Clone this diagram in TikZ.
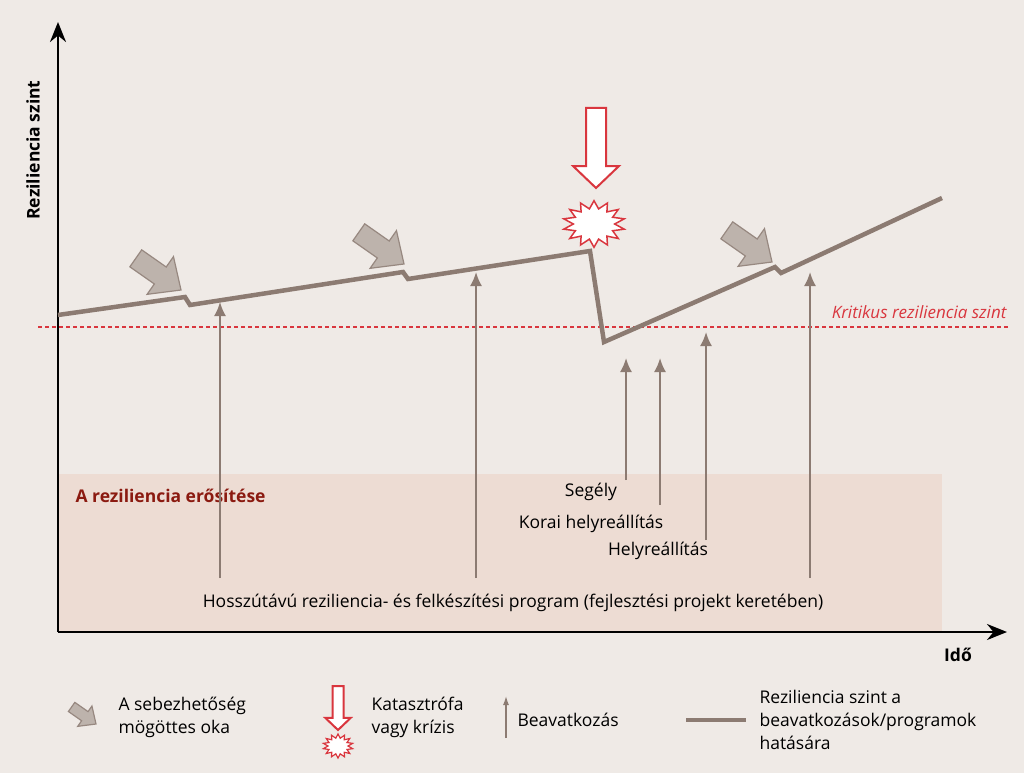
\documentclass[tikz,border=0pt]{standalone}
\usepackage{fontspec}
\setmainfont{Open Sans}
\usetikzlibrary{shapes.geometric}
\usetikzlibrary{positioning}
\definecolor{bg}{HTML}{EFEAE6}
\definecolor{boxfill}{HTML}{EDDCD3}
\definecolor{lvl}{HTML}{8C7B72}
\definecolor{fat}{HTML}{BDB3AC}
\definecolor{crit}{HTML}{D9363E}
\definecolor{dred}{HTML}{8B1A10}
\tikzset{
  txt/.style={font=\fontsize{17.5}{23}\selectfont, align=left},
  interv/.style={draw=lvl, line width=2pt, -{Latex[length=14pt,width=12pt]}},
  burst/.style={star, star points=14, star point ratio=1.5, draw=crit, fill=white, line width=1.5pt, minimum width=#1, inner sep=0pt},
  fatarrow/.pic={\draw[fill=fat, draw=lvl!90, line width=1.2pt] (-48,-9)--(-22,-9)--(-22,-20)--(0,0)--(-22,20)--(-22,9)--(-48,9)--cycle;},
  disaster/.pic={\draw[fill=white, draw=crit, line width=2pt] (-10,0)--(10,0)--(10,58)--(23,58)--(0,80)--(-23,58)--(-10,58)--cycle;}
}
\usetikzlibrary{arrows.meta}
\begin{document}
\begin{tikzpicture}[x=1pt, y=-1pt]
  \fill[bg] (0,0) rectangle (1024,773);
  \useasboundingbox (0,0) rectangle (1024,773);
  % strengthening area
  \fill[boxfill] (58,474) rectangle (942,632);
  \node[txt, anchor=west, text=dred, font=\fontsize{17.5}{21}\selectfont\bfseries] (strong) at (72,496) {A reziliencia erősítése};
  % axes
  \coordinate (o) at (58,632);
  \coordinate (ytop) at (58,22);
  \coordinate (xend) at (1007,632);
  \draw[line width=2.5pt, -{Stealth[length=20pt,width=16pt]}] (o) -- (ytop);
  \draw[line width=2.5pt, -{Stealth[length=20pt,width=16pt]}] (o) -- (xend);
  \node[rotate=90, font=\fontsize{17.5}{21}\selectfont\bfseries] (ylab) at (33,150) {Reziliencia szint};
  \node[font=\fontsize{17.5}{21}\selectfont\bfseries] (xlab) at (958,655) {Idő};
  % critical level
  \coordinate (c1) at (38,327);
  \coordinate (c2) at (1008,327);
  \draw[crit, line width=1.3pt, dash pattern=on 4pt off 3pt] (c1) -- (c2);
  \node[anchor=east, text=crit, font=\fontsize{17}{21}\selectfont\itshape] (critlab) at (1010,312) {Kritikus reziliencia szint};
  % interventions
  \foreach \name/\x/\ya/\yb in {i1/220/578/302, i2/476/578/272, i3/626/480/358, i4/660/505/358, i5/706/540/332, i6/810/578/272}{
    \coordinate (\name a) at (\x,\ya);
    \coordinate (\name b) at (\x,\yb);
    \draw[interv] (\name a) -- (\name b);
  }
  \node[txt, fill=boxfill, inner sep=1pt] (segely) at (591,492) {Segély};
  \node[txt, fill=boxfill, inner sep=1pt] (korai) at (591,524) {Korai helyreállítás};
  \node[txt, fill=boxfill, inner sep=1pt] (helyre) at (658,551) {Helyreállítás};
  \node[txt, fill=boxfill, inner sep=1pt] (hossz) at (513,603) {Hosszútávú reziliencia- és felkészítési program (fejlesztési projekt keretében)};
  % resilience level
  \draw[lvl, line width=4.5pt, line join=miter] (58,315) -- (185,297) -- (190,305) -- (403,272) -- (408,279) -- (590,251) -- (604,342) -- (775,267) -- (781,273) -- (942,198);
  % underlying causes
  \pic[rotate=-35, scale=1.15] at (181,290) {fatarrow};
  \pic[rotate=-35, scale=1.15] at (404,264) {fatarrow};
  \pic[rotate=-35, scale=1.15] at (772,262) {fatarrow};
  % disaster
  \pic at (596,108) {disaster};
  \node[burst=62pt, yscale=0.75] (crisis) at (594,224) {};
  % legend
  \pic[scale=0.62, rotate=-35] at (96,724) {fatarrow};
  \node[txt, anchor=west] (l1) at (115,717) {A sebezhetőség\\mögöttes oka};
  \pic[scale=0.55] at (338,686) {disaster};
  \node[burst=30pt, yscale=0.8, line width=1.2pt] (lcrisis) at (338,746) {};
  \node[txt, anchor=west] (l2) at (368,717) {Katasztrófa\\vagy krízis};
  \coordinate (l3a) at (506,738);
  \coordinate (l3b) at (506,696);
  \draw[draw=lvl, line width=1.3pt, -{Latex[length=9pt,width=6pt]}] (l3a) -- (l3b);
  \node[txt, anchor=west] (l3) at (514,720) {Beavatkozás};
  \coordinate (l4a) at (686,720);
  \coordinate (l4b) at (746,720);
  \draw[lvl, line width=4.5pt] (l4a) -- (l4b);
  \node[txt, anchor=west] (l4) at (756,720) {Reziliencia szint a\\beavatkozások/programok\\hatására};
\end{tikzpicture}
\end{document}
